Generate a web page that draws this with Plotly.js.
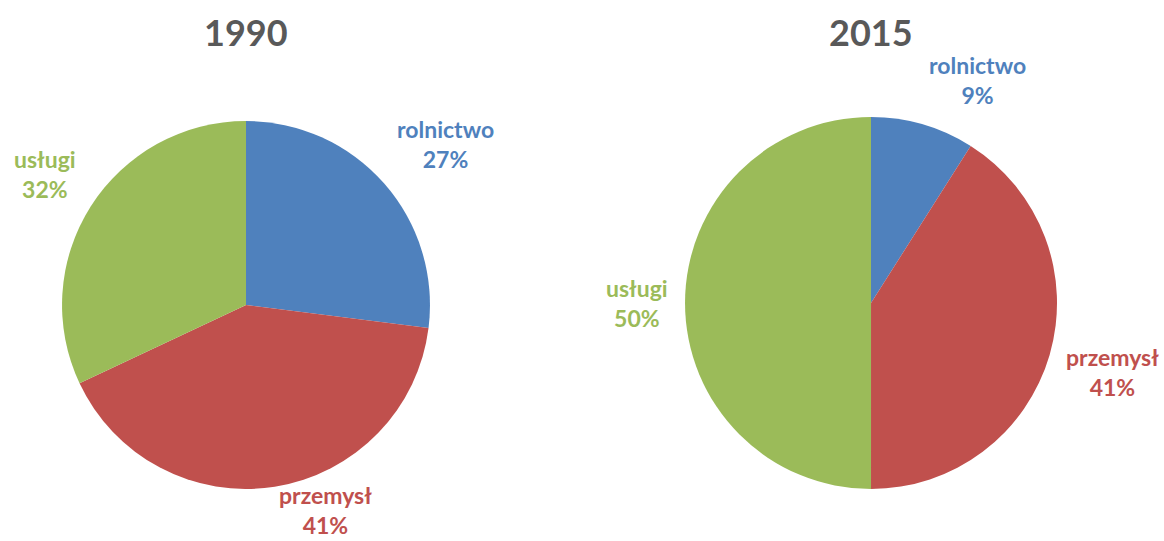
<!DOCTYPE html>
<html>
<head>
<meta charset="utf-8">
<script src="https://cdn.plot.ly/plotly-3.0.1.min.js"></script>
<style>html,body{margin:0;padding:0;background:#fff;}#chart{width:1164px;height:541px;}</style>
</head>
<body>
<div id="chart"></div>
<script>
// Data
const sectors = ["rolnictwo", "przemysł", "usługi"];
const years = ["1990", "2015"];
const values1990 = [27, 41, 32];
const values2015 = [9, 41, 50];
const sectorColors = ["#4F81BD", "#C0504D", "#9BBB59"];

const W = 1164, H = 541;
const FONT = "Lato, 'Open Sans', sans-serif";
const LABEL_SIZE = 23;
const LABEL_GAP = 15;
const LABEL_BOX_H = 2 * LABEL_SIZE * 1.3;

const domains = [
  {x: [0.0533, 0.3694], y: [0.0961, 0.7763]},
  {x: [0.5885, 0.9081], y: [0.0961, 0.7837]}
];
const series = [values1990, values2015];

const traces = series.map((vals, i) => ({
  type: "pie",
  labels: sectors,
  values: vals,
  sort: false,
  direction: "clockwise",
  rotation: 0,
  marker: {colors: sectorColors, line: {color: "#ffffff", width: 0}},
  textinfo: "none",
  hoverinfo: "label+percent",
  showlegend: false,
  domain: domains[i]
}));

const clamp = (v) => Math.max(-1, Math.min(1, v));

const annotations = [];
series.forEach((vals, i) => {
  const d = domains[i];
  const x0 = d.x[0] * W, x1 = d.x[1] * W;
  const y0 = (1 - d.y[1]) * H, y1 = (1 - d.y[0]) * H;
  const cx = (x0 + x1) / 2, cy = (y0 + y1) / 2;
  const r = Math.min(x1 - x0, y1 - y0) / 2;
  // Title
  annotations.push({
    xref: "paper", yref: "paper",
    x: cx / W, y: 1 - 32 / H,
    xanchor: "center", yanchor: "middle",
    text: "<b>" + years[i] + "</b>",
    showarrow: false,
    font: {family: FONT, size: 36, color: "#595959"}
  });
  const total = vals.reduce((a, b) => a + b, 0);
  let cum = 0;
  vals.forEach((v, k) => {
    const mid = (cum + v / 2) / total * 2 * Math.PI;
    cum += v;
    const s = Math.sin(mid), c = Math.cos(mid);
    const dist = r + LABEL_GAP;
    const px = cx + dist * s;
    // vertical centre of the label box, shifted away from the pie
    let py = cy - dist * c - (LABEL_BOX_H / 2) * clamp(1.5 * c);
    let yanchor = "middle";
    if (py + LABEL_BOX_H / 2 > H) { py = H; yanchor = "bottom"; }
    if (py - LABEL_BOX_H / 2 < 0) { py = 0; yanchor = "top"; }
    const xanchor = s > 0.1 ? "left" : (s < -0.1 ? "right" : "center");
    const pct = Math.round(v / total * 100) + "%";
    annotations.push({
      xref: "paper", yref: "paper",
      x: px / W, y: 1 - py / H,
      xanchor: xanchor, yanchor: yanchor,
      text: "<b>" + sectors[k] + "<br>" + pct + "</b>",
      showarrow: false,
      align: "center",
      font: {family: FONT, size: LABEL_SIZE, color: sectorColors[k]}
    });
  });
});

const layout = {
  width: W, height: H,
  margin: {l: 0, r: 0, t: 0, b: 0},
  paper_bgcolor: "#ffffff",
  plot_bgcolor: "#ffffff",
  annotations: annotations
};

Plotly.newPlot("chart", traces, layout, {displayModeBar: false, staticPlot: true});
</script>
</body>
</html>
